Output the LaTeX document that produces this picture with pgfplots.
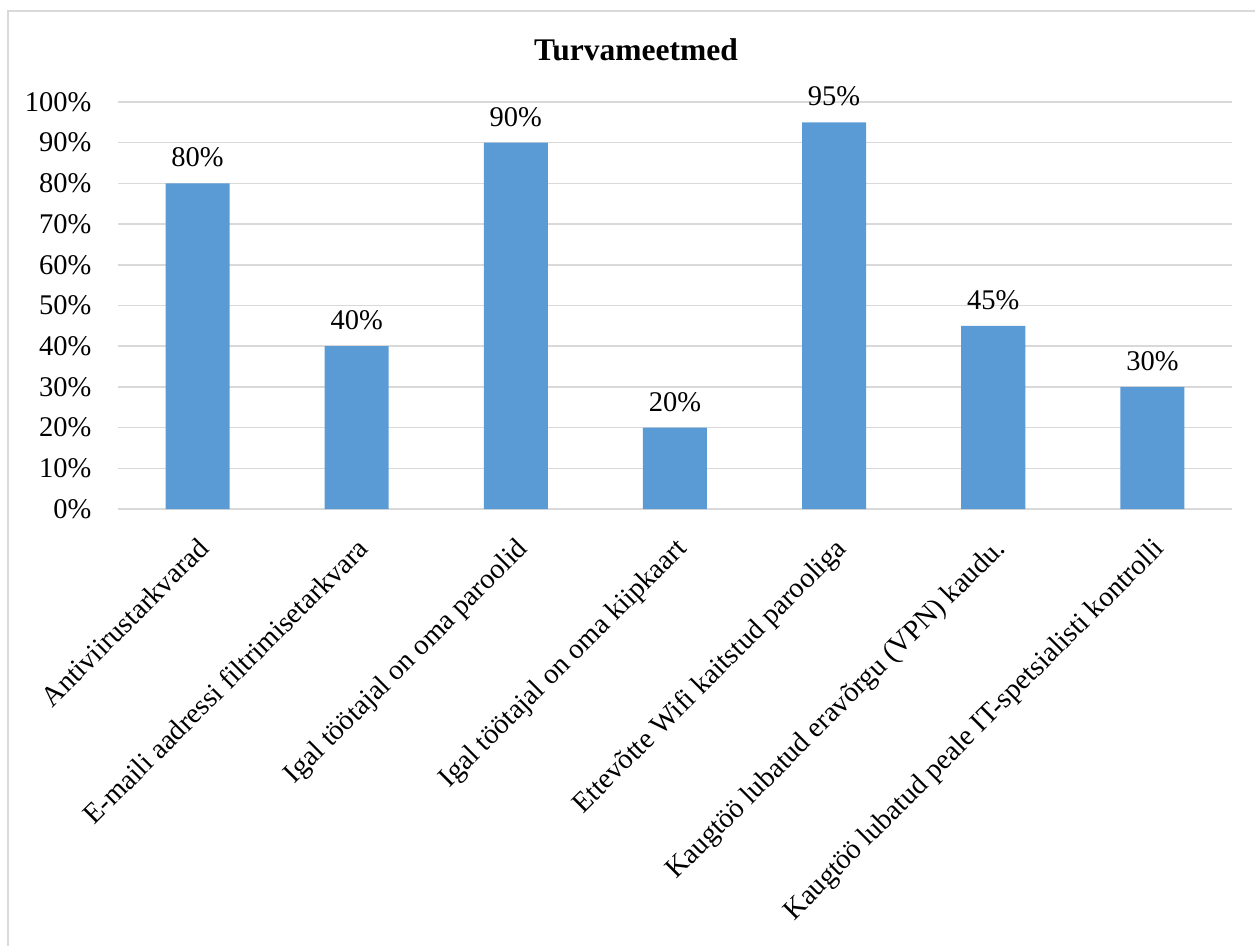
\documentclass[border=0pt]{standalone}
\usepackage{fontspec}
\setmainfont{Liberation Serif}
\usepackage{pgfplots}
\pgfplotsset{compat=1.18}
\definecolor{barblue}{RGB}{91,155,213}
\definecolor{gridgray}{RGB}{217,217,217}
\definecolor{framegray}{RGB}{217,217,217}
\begin{document}
\begin{tikzpicture}[x=1pt,y=1pt]
    \useasboundingbox (0,0) rectangle (1255,-945);
    \draw[framegray, line width=1.5pt] (8,-960) -- (8,-11) -- (1270,-11);
    \node[font=\fontsize{31.5}{36}\selectfont\bfseries] at (636,-50) {Turvameetmed};
    \begin{axis}[
            at={(118pt,-509pt)},
            anchor=south west,
            scale only axis,
            width=1114pt,
            height=407pt,
            ybar,
            bar width=64pt,
            xmin=-0.5, xmax=6.5,
            ymin=0, ymax=100,
            ytick={0,10,...,100},
            yticklabel={\pgfmathprintnumber{\tick}\%},
            /pgf/number format/assume math mode=true,
            xtick=data,
            xticklabels={Antiviirustarkvarad,
                E-maili aadressi filtrimisetarkvara,
                Igal töötajal on oma paroolid,
                Igal töötajal on oma kiipkaart,
                Ettevõtte Wifi kaitstud parooliga,
                Kaugtöö lubatud eravõrgu (VPN) kaudu.,
                Kaugtöö lubatud peale IT-spetsialisti kontrolli},
            tick label style={font=\fontsize{28.5}{33}\selectfont},
            x tick label style={xshift=-1pt, yshift=-27pt, rotate=45, anchor=north east, inner sep=0pt},
            y tick label style={xshift=-23pt},
            ymajorgrids,
            grid style={gridgray, line width=1.5pt},
            axis line style={draw=none},
            axis x line*=bottom,
            x axis line style={gridgray, line width=1.5pt},
            major tick length=0pt,
            nodes near coords={\pgfmathprintnumber{\pgfplotspointmeta}\%},
            nodes near coords style={font=\fontsize{28.5}{33}\selectfont, inner sep=0pt, yshift=16pt},
        ]
        \addplot[fill=barblue, draw=none] coordinates {
                (0,80) (1,40) (2,90) (3,20) (4,95) (5,45) (6,30)
            };
    \end{axis}
\end{tikzpicture}
\end{document}
